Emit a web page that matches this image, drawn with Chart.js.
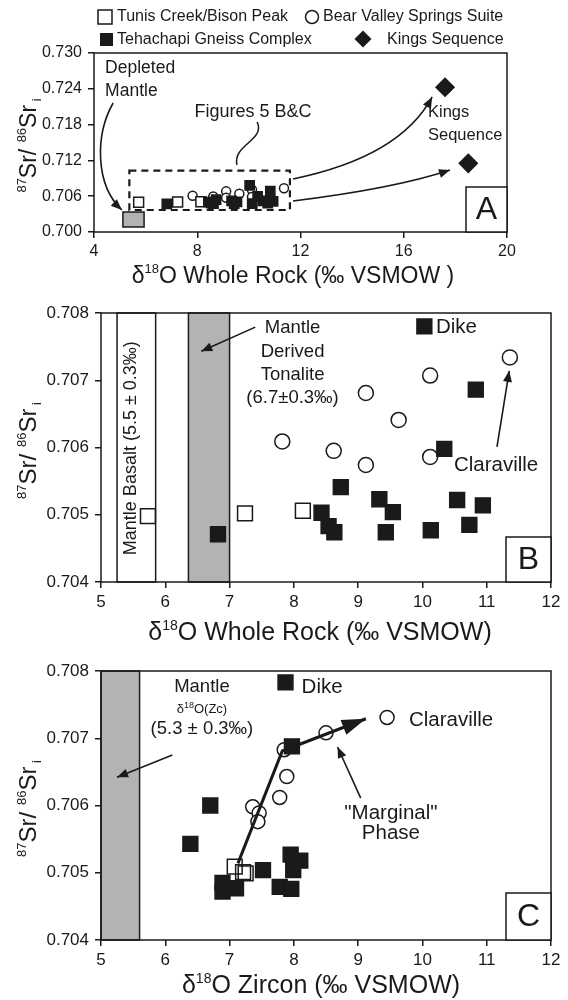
<!DOCTYPE html>
<html>
<head>
<meta charset="utf-8">
<script src="https://cdn.jsdelivr.net/npm/chart.js@4.4.1/dist/chart.umd.min.js"></script>
<style>
  body { margin: 0; background: #fff; }
  #wrap { position: relative; width: 568px; height: 1000px; }
  canvas { position: absolute; left: 0; }
</style>
</head>
<body>
<div id="wrap">
  <canvas id="chartA" width="568" height="292" style="top:0px"></canvas>
  <canvas id="chartB" width="568" height="356" style="top:292px"></canvas>
  <canvas id="chartC" width="568" height="352" style="top:648px"></canvas>
</div>
<script>
const FONT = "'Liberation Sans', Arial, sans-serif";
const INK = '#1a1a1a';
const GREY = '#b3b3b3';

// whole rock d18O vs initial Sr (panels A and B)
const tunisWR_x = [5.73, 7.24, 8.14];
const tunisWR_y = [0.70498, 0.70502, 0.70506];
const bearWR_x = [7.82, 8.62, 9.12, 9.12, 9.63, 10.12, 10.12, 11.36];
const bearWR_y = [0.70609, 0.70595, 0.70681, 0.70574, 0.70641, 0.70707, 0.70586, 0.70734];
const tehWR_x = [6.82, 8.43, 8.54, 8.63, 8.73, 9.33, 9.54, 9.43, 10.13, 10.34, 10.54, 10.73, 10.94, 10.83, 10.03];
const tehWR_y = [0.70471, 0.70503, 0.70483, 0.70474, 0.70541, 0.70523, 0.70504, 0.70474, 0.70477, 0.70598, 0.70522, 0.70485, 0.70514, 0.70686, 0.70780];
const kings_x = [17.6, 18.5];
const kings_y = [0.72425, 0.71151];
const depletedMantle_x = [5.12, 5.94];
const depletedMantle_y = [0.70084, 0.70335];
const boxBC_x = [5.37, 11.59];
const boxBC_y = [0.70369, 0.71027];

// reference bands
const basaltBand = [5.25, 5.85];
const tonaliteBand = [6.36, 7.0];
const zirconMantleBand = [5.0, 5.6];

// zircon d18O vs initial Sr (panel C)
const tunisZc_x = [7.08, 7.21, 7.25];
const tunisZc_y = [0.70509, 0.70501, 0.70499];
const bearZc_x = [7.85, 7.89, 7.78, 7.36, 7.46, 7.44, 8.50, 9.45];
const bearZc_y = [0.70683, 0.70643, 0.70612, 0.70598, 0.70589, 0.70576, 0.70708, 0.70731];
const tehZc_x = [7.87, 7.97, 6.70, 6.39, 7.52, 6.89, 6.89, 7.10, 7.95, 8.10, 7.99, 7.78, 7.96];
const tehZc_y = [0.70783, 0.70688, 0.70600, 0.70543, 0.70504, 0.70485, 0.70472, 0.70477, 0.70527, 0.70518, 0.70504, 0.70479, 0.70476];
const trendZc_x = [7.13, 7.82, 9.12];
const trendZc_y = [0.70514, 0.70681, 0.70729];

// tick labels
const ticksA_x = [4, 8, 12, 16, 20];
const ticksA_y = [0.700, 0.706, 0.712, 0.718, 0.724, 0.730];
const ticksBC_x = [5, 6, 7, 8, 9, 10, 11, 12];
const ticksBC_y = [0.704, 0.705, 0.706, 0.707, 0.708];

function pts(xs, ys) {
    return xs.map((x, i) => ({x: x, y: ys[i]}));
}

function series(xs, ys, style, fill, r, order) {
    return {
        data: pts(xs, ys),
        pointStyle: style,
        pointRadius: r,
        pointHoverRadius: r,
        pointBackgroundColor: fill,
        pointBorderColor: INK,
        pointBorderWidth: 1.5,
        order: order
    };
}

function scalesFor(xr, xt, yr, yt, yWidth, xHeight, tickSize) {
    const grid = {drawOnChartArea: false, drawTicks: true, tickLength: 6, color: INK, lineWidth: 1.5};
    const font = {family: FONT, size: tickSize};
    return {
        x: {
            type: 'linear', min: xr[0], max: xr[1], grid: grid, border: {display: false},
            ticks: {font: font, color: INK, padding: 4, maxRotation: 0, autoSkip: false, callback: v => String(v)},
            afterBuildTicks: s => { s.ticks = xt.map(v => ({value: v})); },
            afterFit: s => { s.height = xHeight; }
        },
        y: {
            type: 'linear', min: yr[0], max: yr[1], grid: grid, border: {display: false},
            ticks: {font: font, color: INK, padding: 6, autoSkip: false, callback: v => v.toFixed(3)},
            afterBuildTicks: s => { s.ticks = yt.map(v => ({value: v})); },
            afterFit: s => { s.width = yWidth; }
        }
    };
}

// ---- drawing helpers ----
function P(chart, x, y) {
    return [chart.scales.x.getPixelForValue(x), chart.scales.y.getPixelForValue(y)];
}

function rich(ctx, parts, x, y, rot) {
    ctx.save();
    ctx.translate(x, y);
    ctx.rotate(rot || 0);
    ctx.fillStyle = INK;
    ctx.textAlign = 'left';
    ctx.textBaseline = 'alphabetic';
    const widths = parts.map(p => { ctx.font = p[1] + 'px ' + FONT; return ctx.measureText(p[0]).width; });
    let cx = -widths.reduce((a, b) => a + b, 0) / 2;
    parts.forEach((p, i) => {
        ctx.font = p[1] + 'px ' + FONT;
        ctx.fillText(p[0], cx, p[2]);
        cx += widths[i];
    });
    ctx.restore();
}

function label(ctx, text, xy, size, align) {
    ctx.save();
    ctx.fillStyle = INK;
    ctx.font = size + 'px ' + FONT;
    ctx.textAlign = align || 'center';
    ctx.textBaseline = 'middle';
    ctx.fillText(text, xy[0], xy[1]);
    ctx.restore();
}

function head(ctx, from, tip, len, hw) {
    const a = Math.atan2(tip[1] - from[1], tip[0] - from[0]);
    const bx = tip[0] - len * Math.cos(a), by = tip[1] - len * Math.sin(a);
    ctx.beginPath();
    ctx.moveTo(tip[0], tip[1]);
    ctx.lineTo(bx + hw * Math.sin(a), by - hw * Math.cos(a));
    ctx.lineTo(bx - hw * Math.sin(a), by + hw * Math.cos(a));
    ctx.closePath();
    ctx.fill();
}

function arrow(ctx, a, b, ctrl) {
    ctx.save();
    ctx.strokeStyle = INK;
    ctx.fillStyle = INK;
    ctx.lineWidth = 1.6;
    ctx.beginPath();
    ctx.moveTo(a[0], a[1]);
    if (ctrl) ctx.quadraticCurveTo(ctrl[0], ctrl[1], b[0], b[1]);
    else ctx.lineTo(b[0], b[1]);
    ctx.stroke();
    head(ctx, ctrl || a, b, 11, 4.5);
    ctx.restore();
}

function band(chart, xr, fill) {
    const ctx = chart.ctx, area = chart.chartArea;
    const x0 = chart.scales.x.getPixelForValue(xr[0]);
    const x1 = chart.scales.x.getPixelForValue(xr[1]);
    ctx.save();
    ctx.fillStyle = fill;
    ctx.fillRect(x0, area.top, x1 - x0, area.bottom - area.top);
    ctx.strokeStyle = INK;
    ctx.lineWidth = 1.5;
    ctx.strokeRect(x0, area.top, x1 - x0, area.bottom - area.top);
    ctx.restore();
}

function frame(chart, letter, w, h) {
    const ctx = chart.ctx, area = chart.chartArea;
    ctx.save();
    ctx.strokeStyle = INK;
    ctx.lineWidth = 1.5;
    ctx.strokeRect(area.left, area.top, area.right - area.left, area.bottom - area.top);
    ctx.fillStyle = '#fff';
    ctx.fillRect(area.right - w, area.bottom - h, w, h);
    ctx.strokeRect(area.right - w, area.bottom - h, w, h);
    ctx.restore();
    label(ctx, letter, [area.right - w / 2, area.bottom - h / 2 + 1], 32);
}

function yTitle(chart, size) {
    const area = chart.chartArea;
    const sup = Math.round(size * 0.55);
    rich(chart.ctx, [['87', sup, -size * 0.42], ['Sr/ ', size, 0], ['86', sup, -size * 0.42], ['Sr', size, 0], [' i', sup, size * 0.22]],
        36, (area.top + area.bottom) / 2 + 3, -Math.PI / 2);
}

function xTitle(chart, text, size, cx, dy) {
    const sup = Math.round(size * 0.55);
    rich(chart.ctx, [['δ', size, 0], ['18', sup, -size * 0.42], [text, size, 0]], cx, chart.chartArea.bottom + dy, 0);
}

function makeChart(id, datasets, scales, pad, under, over) {
    return new Chart(document.getElementById(id), {
        type: 'scatter',
        data: {datasets: datasets},
        options: {
            responsive: false,
            animation: false,
            events: [],
            layout: {padding: pad},
            plugins: {legend: {display: false}, tooltip: {enabled: false}},
            scales: scales
        },
        plugins: [{id: id + 'Notes', beforeDatasetsDraw: under, afterDatasetsDraw: over}]
    });
}

// ---- panel A ----
makeChart('chartA', [
    series(tehWR_x, tehWR_y, 'rect', INK, 6.5, 1),
    series(tunisWR_x, tunisWR_y, 'rect', '#fff', 7, 2),
    series(bearWR_x, bearWR_y, 'circle', '#fff', 4.5, 3),
    series(kings_x, kings_y, 'rectRot', INK, 9, 0)
], scalesFor([4, 20], ticksA_x, [0.700, 0.730], ticksA_y, 94, 60, 16),
{top: 53, right: 61, left: 0, bottom: 0},
chart => {
    const ctx = chart.ctx;
    const a = P(chart, depletedMantle_x[0], depletedMantle_y[1]);
    const b = P(chart, depletedMantle_x[1], depletedMantle_y[0]);
    ctx.save();
    ctx.fillStyle = GREY;
    ctx.strokeStyle = INK;
    ctx.lineWidth = 1.5;
    ctx.fillRect(a[0], a[1], b[0] - a[0], b[1] - a[1]);
    ctx.strokeRect(a[0], a[1], b[0] - a[0], b[1] - a[1]);
    ctx.restore();
},
chart => {
    const ctx = chart.ctx;
    frame(chart, 'A', 41, 45);
    // dashed outline of the B & C window
    const p = P(chart, boxBC_x[0], boxBC_y[1]);
    const q = P(chart, boxBC_x[1], boxBC_y[0]);
    ctx.save();
    ctx.strokeStyle = INK;
    ctx.lineWidth = 2.2;
    ctx.setLineDash([7, 5]);
    ctx.strokeRect(p[0], p[1], q[0] - p[0], q[1] - p[1]);
    ctx.setLineDash([]);
    // squiggle under the caption
    ctx.lineWidth = 1.5;
    const s0 = P(chart, 10.32, 0.71844), s1 = P(chart, 10.66, 0.71542), s2 = P(chart, 9.35, 0.71458), s3 = P(chart, 9.54, 0.71123);
    ctx.beginPath();
    ctx.moveTo(s0[0], s0[1]);
    ctx.bezierCurveTo(s1[0], s1[1], s2[0], s2[1], s3[0], s3[1]);
    ctx.stroke();
    // curved arrow to depleted mantle
    const d0 = P(chart, 4.74, 0.72162), d1 = P(chart, 4.04, 0.71626), d2 = P(chart, 4.04, 0.70788), d3 = P(chart, 5.08, 0.70369);
    ctx.fillStyle = INK;
    ctx.lineWidth = 1.6;
    ctx.beginPath();
    ctx.moveTo(d0[0], d0[1]);
    ctx.bezierCurveTo(d1[0], d1[1], d2[0], d2[1], d3[0], d3[1]);
    ctx.stroke();
    head(ctx, d2, d3, 11, 4.5);
    ctx.restore();
    arrow(ctx, P(chart, 11.71, 0.70888), P(chart, 17.10, 0.72263), P(chart, 15.86, 0.71257));
    arrow(ctx, P(chart, 11.71, 0.70520), P(chart, 17.79, 0.71039), P(chart, 15.64, 0.70729));
    label(ctx, 'Depleted', P(chart, 4.43, 0.72750), 17.5, 'left');
    label(ctx, 'Mantle', P(chart, 4.43, 0.72360), 17.5, 'left');
    label(ctx, 'Figures 5 B&C', P(chart, 10.16, 0.72010), 18);
    label(ctx, 'Kings', P(chart, 16.94, 0.72000), 16.5, 'left');
    label(ctx, 'Sequence', P(chart, 16.94, 0.71620), 16.5, 'left');
    xTitle(chart, 'O Whole Rock (‰ VSMOW )', 23, 293, 51);
    yTitle(chart, 23);
    // legend
    ctx.save();
    ctx.strokeStyle = INK;
    ctx.lineWidth = 1.5;
    ctx.fillStyle = '#fff';
    ctx.fillRect(98, 10, 14, 14);
    ctx.strokeRect(98, 10, 14, 14);
    ctx.beginPath();
    ctx.arc(312, 17, 6.5, 0, Math.PI * 2);
    ctx.fill();
    ctx.stroke();
    ctx.fillStyle = INK;
    ctx.fillRect(100, 33, 13, 13);
    ctx.beginPath();
    ctx.moveTo(363, 30.5);
    ctx.lineTo(371.5, 39);
    ctx.lineTo(363, 47.5);
    ctx.lineTo(354.5, 39);
    ctx.closePath();
    ctx.fill();
    ctx.restore();
    label(ctx, 'Tunis Creek/Bison Peak', [117, 17], 16, 'left');
    label(ctx, 'Bear Valley Springs Suite', [323, 17], 16, 'left');
    label(ctx, 'Tehachapi Gneiss Complex', [117, 40], 16, 'left');
    label(ctx, 'Kings Sequence', [387, 40], 16, 'left');
});

// ---- panel B ----
makeChart('chartB', [
    series(tehWR_x, tehWR_y, 'rect', INK, 10.5, 1),
    series(tunisWR_x, tunisWR_y, 'rect', '#fff', 10.5, 2),
    series(bearWR_x, bearWR_y, 'circle', '#fff', 7.5, 3)
], scalesFor([5, 12], ticksBC_x, [0.704, 0.708], ticksBC_y, 101, 66, 17),
{top: 21, right: 17, left: 0, bottom: 0},
chart => {
    band(chart, basaltBand, '#fff');
    band(chart, tonaliteBand, GREY);
    const c = P(chart, 5.55, 0.70599);
    rich(chart.ctx, [['Mantle Basalt (5.5 ± 0.3‰)', 18, 0]], c[0], c[1], -Math.PI / 2);
},
chart => {
    const ctx = chart.ctx;
    frame(chart, 'B', 45, 45);
    label(ctx, 'Mantle', P(chart, 7.98, 0.70778), 18.5);
    label(ctx, 'Derived', P(chart, 7.98, 0.70742), 18.5);
    label(ctx, 'Tonalite', P(chart, 7.98, 0.70708), 18.5);
    label(ctx, '(6.7±0.3‰)', P(chart, 7.98, 0.70674), 18.5);
    arrow(ctx, P(chart, 7.40, 0.70779), P(chart, 6.56, 0.70743));
    label(ctx, 'Dike', P(chart, 10.21, 0.70779), 20.5, 'left');
    label(ctx, 'Claraville', P(chart, 10.49, 0.70574), 20.5, 'left');
    arrow(ctx, P(chart, 11.16, 0.70601), P(chart, 11.35, 0.70714));
    xTitle(chart, 'O Whole Rock (‰ VSMOW)', 25, 320, 58);
    yTitle(chart, 24);
});

// ---- panel C ----
const trend = {
    data: pts(trendZc_x, trendZc_y),
    showLine: true,
    borderColor: INK,
    borderWidth: 3,
    pointRadius: 0,
    order: 0
};
makeChart('chartC', [
    trend,
    series(tehZc_x, tehZc_y, 'rect', INK, 10.5, 1),
    series(tunisZc_x, tunisZc_y, 'rect', 'rgba(255,255,255,0)', 10.5, 2),
    series(bearZc_x, bearZc_y, 'circle', '#fff', 7, 3)
], scalesFor([5, 12], ticksBC_x, [0.704, 0.708], ticksBC_y, 101, 60, 17),
{top: 23, right: 17, left: 0, bottom: 0},
chart => {
    band(chart, zirconMantleBand, GREY);
},
chart => {
    const ctx = chart.ctx;
    frame(chart, 'C', 45, 47);
    ctx.save();
    ctx.fillStyle = INK;
    const n = trendZc_x.length;
    head(ctx, P(chart, trendZc_x[n - 2], trendZc_y[n - 2]), P(chart, trendZc_x[n - 1], trendZc_y[n - 1]), 24, 8);
    ctx.restore();
    label(ctx, 'Mantle', P(chart, 6.57, 0.70776), 18.5);
    const z = P(chart, 6.57, 0.70745);
    rich(ctx, [['δ', 13, 0], ['18', 9, -5], ['O(Zc)', 13, 0]], z[0], z[1] + 5, 0);
    label(ctx, '(5.3 ± 0.3‰)', P(chart, 6.57, 0.70714), 18.5);
    arrow(ctx, P(chart, 6.11, 0.70675), P(chart, 5.25, 0.70642));
    label(ctx, 'Dike', P(chart, 8.12, 0.70775), 20.5, 'left');
    label(ctx, 'Claraville', P(chart, 9.79, 0.70727), 20.5, 'left');
    label(ctx, '"Marginal"', P(chart, 9.51, 0.70589), 20.5);
    label(ctx, 'Phase', P(chart, 9.51, 0.70558), 20.5);
    arrow(ctx, P(chart, 9.04, 0.70611), P(chart, 8.68, 0.70687));
    xTitle(chart, 'O Zircon (‰ VSMOW)', 25, 321, 53);
    yTitle(chart, 24);
});
</script>
</body>
</html>
